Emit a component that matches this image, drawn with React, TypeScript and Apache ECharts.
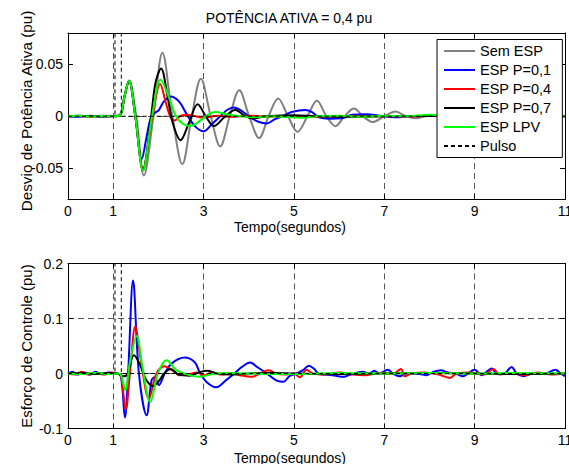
import React, { useEffect, useRef } from 'react';
import * as echarts from 'echarts';

type Pt = [number, number];

const FONT = '"Liberation Sans", Arial, Helvetica, sans-serif';

const titleText = 'POTÊNCIA ATIVA = 0,4 pu';
const xName = 'Tempo(segundos)';
const topYName = 'Desvio de Potência Ativa (pu)';
const bottomYName = 'Esforço de Controle (pu)';

const xTicks = [0, 1, 3, 5, 7, 9, 11];
const topYTicks = [-0.05, 0, 0.05];
const seriesNames = ['Sem ESP', 'ESP P=0,1', 'ESP P=0,4', 'ESP P=0,7', 'ESP LPV', 'Pulso'];
const seriesColors = ['#808080', '#0000ff', '#ff0000', '#000000', '#00ff00', '#000000'];

// Pulse (same reference pulse in both panels)
const pulso: Pt[] = [[0, 0], [1.04, 0], [1.04, 1], [1.18, 1], [1.18, 0], [11, 0]];

// ---- Top panel: Desvio de Potência Ativa (pu) ----
const devSemEsp: Pt[] = [
  [0, 0], [0.25, 0.0008], [0.5, -0.0003], [0.75, 0.0006], [1.0, 0.0003], [1.15, 0.001], [1.25, 0.019],
  [1.35, 0.034], [1.51, 0], [1.68, -0.057], [1.89, 0], [2.09, 0.061], [2.31, 0], [2.53, -0.046],
  [2.74, 0], [2.94, 0.036], [3.16, 0], [3.37, -0.029], [3.58, 0], [3.79, 0.025], [4.01, 0],
  [4.23, -0.021], [4.44, 0], [4.65, 0.017], [4.87, 0], [5.08, -0.015], [5.3, 0], [5.51, 0.015],
  [5.72, 0], [5.92, -0.0095], [6.12, 0], [6.33, 0.0075], [6.53, 0], [6.74, -0.0055], [7.0, 0],
  [7.25, 0.0045], [7.48, 0], [7.7, -0.002], [8.0, 0.001], [8.5, 0], [9, 0.0005], [9.5, 0],
  [10, 0.0003], [10.5, 0], [11, 0],
];
const devP01: Pt[] = [
  [0, 0], [0.25, -0.0005], [0.5, 0.0004], [0.75, -0.0003], [1.0, 0.0003], [1.15, 0.001], [1.25, 0.019],
  [1.35, 0.034], [1.49, 0], [1.63, -0.041], [1.76, -0.015], [1.83, -0.002], [1.92, 0.003], [2.01, 0.006],
  [2.12, 0.014], [2.27, 0.019], [2.46, 0.014], [2.64, 0.001], [2.82, -0.01], [3.0, -0.0145], [3.2, -0.007],
  [3.37, 0], [3.52, 0.006], [3.67, 0.0085], [3.85, 0.005], [4.0, 0], [4.2, -0.005], [4.4, -0.007],
  [4.57, -0.003], [4.74, 0], [4.95, 0.004], [5.25, 0.006], [5.4, 0.004], [5.55, -0.001], [5.8, -0.0023],
  [6.05, -0.002], [6.3, 0.0015], [6.6, 0.002], [6.9, 0.0005], [7.25, -0.001], [7.6, 0], [8, 0.0005],
  [8.5, 0], [9, -0.0003], [10, 0.0003], [11, 0],
];
const devP04: Pt[] = [
  [0, 0], [0.25, 0.0003], [0.5, -0.0004], [0.75, 0.0003], [1.0, 0], [1.15, 0.001], [1.25, 0.019],
  [1.35, 0.034], [1.49, 0], [1.66, -0.05], [1.87, 0], [2.04, 0.031], [2.16, 0.014], [2.27, -0.001],
  [2.36, -0.004], [2.49, 0.0003], [2.64, 0.0015], [2.82, 0], [3.0, -0.0013], [3.3, 0.0005], [3.6, -0.0005],
  [4, 0.0005], [4.5, -0.0003], [5, 0.0003], [5.5, -0.0005], [6, 0.0003], [6.5, -0.0003], [7, 0.0003],
  [7.5, -0.0003], [8, 0.0003], [8.5, 0], [9, 0.0003], [10, 0], [11, 0],
];
const devP07: Pt[] = [
  [0, 0], [0.25, 0.0002], [0.5, 0], [0.75, -0.0002], [1.0, 0], [1.15, 0.001], [1.25, 0.019],
  [1.35, 0.034], [1.49, 0], [1.66, -0.052], [1.84, 0], [1.94, 0.033], [2.06, 0.046], [2.2, 0.02],
  [2.31, -0.005], [2.49, -0.023], [2.68, -0.006], [2.87, 0.0115], [3.05, 0], [3.23, -0.0094],
  [3.46, -0.001], [3.7, 0.006], [3.93, 0], [4.1, -0.002], [4.4, 0], [5.0, 0.001], [5.5, 0],
  [6, -0.0005], [7, 0], [8, 0.0003], [9, 0], [11, 0],
];
const devLpv: Pt[] = [
  [0, 0], [0.25, 0.0004], [0.5, -0.0003], [0.75, 0.0002], [1.0, 0], [1.15, 0.001], [1.25, 0.019],
  [1.35, 0.034], [1.49, 0], [1.66, -0.052], [1.86, 0], [2.05, 0.035], [2.2, 0.022], [2.38, 0.001],
  [2.53, -0.007], [2.71, -0.0094], [2.93, -0.004], [3.12, 0.002], [3.26, 0.0042], [3.52, 0.0016],
  [3.8, 0], [4.1, -0.001], [4.5, 0], [5.2, -0.0015], [5.5, 0], [6, 0.0005], [6.5, -0.0005],
  [7, 0.0005], [7.5, 0], [8, 0.0015], [8.5, 0], [9, 0], [10, 0], [11, 0],
];

// ---- Bottom panel: Esforço de Controle (pu) ----
const ctrlP01: Pt[] = [
  [0, 0], [0.1, 0.003], [0.2, -0.002], [0.35, 0.002], [0.5, -0.002], [0.6, 0.003], [0.75, -0.001],
  [0.9, 0.002], [1.05, 0], [1.16, -0.002], [1.26, -0.08], [1.33, 0], [1.44, 0.169], [1.57, 0],
  [1.74, -0.076], [1.85, -0.012], [1.92, -0.007], [2.01, -0.021], [2.14, 0], [2.29, 0.018],
  [2.58, 0.029], [2.8, 0.021], [2.91, 0.003], [3.06, -0.015], [3.28, -0.025], [3.5, -0.012],
  [3.68, 0], [3.85, 0.012], [4.03, 0.02], [4.2, 0.011], [4.4, 0], [4.62, -0.013], [4.77, -0.015],
  [4.9, -0.005], [5.06, 0], [5.2, 0.006], [5.33, 0.014], [5.44, 0.009], [5.56, -0.001], [5.85, -0.003],
  [6.11, -0.006], [6.22, -0.003], [6.52, 0.003], [6.67, 0], [6.78, 0.005], [6.89, 0], [7.08, 0.007],
  [7.19, 0], [7.34, -0.005], [7.49, 0], [7.78, -0.001], [7.93, -0.003], [8.08, 0.003], [8.26, 0.006],
  [8.37, 0.003], [8.6, -0.001], [8.74, -0.005], [9.0, 0.007], [9.15, -0.003], [9.38, 0.009],
  [9.49, 0], [9.64, -0.001], [9.82, 0.012], [9.93, 0], [10.08, -0.005], [10.3, 0], [10.53, -0.001],
  [10.79, 0.007], [10.9, 0], [11, -0.005],
];
const ctrlP04: Pt[] = [
  [0, 0], [0.15, -0.002], [0.3, 0.003], [0.45, -0.002], [0.6, 0.001], [0.8, -0.002], [0.95, 0.002],
  [1.1, 0], [1.17, -0.003], [1.28, -0.065], [1.37, 0], [1.49, 0.086], [1.62, 0.02], [1.79, -0.045],
  [1.96, 0], [2.14, 0.013], [2.32, 0.005], [2.47, -0.003], [2.7, -0.001], [2.85, 0.002], [3.0, -0.003],
  [3.2, 0.002], [3.4, -0.002], [3.6, 0.001], [3.8, -0.003], [4.07, -0.006], [4.25, 0], [4.44, 0.006],
  [4.6, 0], [4.8, -0.002], [5.0, 0], [5.13, -0.007], [5.28, 0.007], [5.42, 0], [5.7, -0.002],
  [6.0, 0.002], [6.3, -0.002], [6.6, -0.003], [6.9, 0.001], [7.2, 0], [7.37, 0.008], [7.45, -0.005],
  [7.6, 0], [7.9, 0.002], [8.2, -0.002], [8.45, -0.008], [8.6, 0], [8.9, 0.002], [9.2, -0.002],
  [9.42, 0.008], [9.55, -0.002], [9.8, 0.001], [10.1, -0.003], [10.4, 0.002], [10.7, -0.002], [11, 0],
];
const ctrlP07: Pt[] = [
  [0, 0], [0.3, 0.001], [0.6, -0.001], [0.9, 0.001], [1.1, 0], [1.2, -0.005], [1.3, -0.003],
  [1.46, 0.033], [1.6, 0.015], [1.72, -0.01], [1.88, -0.023], [2.0, -0.015], [2.13, 0], [2.27, 0.008],
  [2.45, -0.002], [2.7, -0.004], [2.9, 0.002], [3.08, 0.005], [3.3, 0], [3.6, -0.002], [4, 0],
  [4.5, 0.001], [5, 0], [6, -0.001], [7, 0], [8, 0.001], [9, 0], [10, -0.001], [11, 0],
];
const ctrlLpv: Pt[] = [
  [0, 0], [0.3, -0.001], [0.6, 0.001], [0.9, -0.001], [1.1, 0], [1.17, -0.003], [1.27, -0.03],
  [1.37, 0.02], [1.52, 0.068], [1.65, 0.01], [1.82, -0.052], [1.99, 0], [2.18, 0.024], [2.4, 0.006],
  [2.69, -0.003], [2.91, -0.006], [3.2, -0.001], [3.5, 0.001], [4, 0], [5, -0.001], [6, 0.001],
  [7, 0], [8, 0.001], [9, 0], [10, 0.001], [11, 0],
];

const topData: Pt[][] = [devSemEsp, devP01, devP04, devP07, devLpv, pulso];
const bottomData: (Pt[] | null)[] = [null, ctrlP01, ctrlP04, ctrlP07, ctrlLpv, pulso];

const GRID_LEFT = 68;
const GRID_W = 497;

function buildOption(): any {
  const textBase = { fontFamily: FONT, fontSize: 14, color: '#000' };
  const gridLine = { show: true, showMinLine: false, showMaxLine: false, lineStyle: { color: '#555', width: 1, type: [6, 4] } };
  const axLine = { show: true, onZero: false, lineStyle: { color: '#000', width: 1 } };
  const tick = (custom?: number[]) => ({ show: true, inside: true, length: 5, lineStyle: { color: '#000', width: 1 }, ...(custom ? { customValues: custom } : {}) });

  const xMain = (grid: number) => ({
    type: 'value', gridIndex: grid, position: 'bottom', min: 0, max: 11,
    axisLine: axLine, axisTick: tick(xTicks),
    axisLabel: { show: true, customValues: xTicks, margin: 4, ...textBase },
    splitLine: gridLine,
  });
  const xMirror = (grid: number) => ({
    type: 'value', gridIndex: grid, position: 'top', min: 0, max: 11,
    axisLine: axLine, axisTick: tick(xTicks), axisLabel: { show: false, customValues: xTicks }, splitLine: { show: false },
  });

  const yTop = {
    type: 'value', gridIndex: 0, position: 'left', min: -0.08, max: 0.08,
    axisLine: axLine, axisTick: tick(topYTicks),
    axisLabel: { show: true, customValues: topYTicks, margin: 5, ...textBase },
    splitLine: gridLine,
  };
  const yTopMirror = {
    type: 'value', gridIndex: 0, position: 'right', min: -0.08, max: 0.08,
    axisLine: axLine, axisTick: tick(topYTicks), axisLabel: { show: false, customValues: topYTicks }, splitLine: { show: false },
  };
  const yBottom = {
    type: 'value', gridIndex: 1, position: 'left', min: -0.1, max: 0.2, interval: 0.1,
    axisLine: axLine, axisTick: tick(),
    axisLabel: { show: true, margin: 5, ...textBase },
    splitLine: gridLine,
  };
  const yBottomMirror = {
    type: 'value', gridIndex: 1, position: 'right', min: -0.1, max: 0.2, interval: 0.1,
    axisLine: axLine, axisTick: tick(), axisLabel: { show: false }, splitLine: { show: false },
  };

  const series: any[] = [];
  const mk = (i: number, data: Pt[], axisIdx: number) => {
    const dashed = i === 5;
    return {
      type: 'line', name: seriesNames[i], data, xAxisIndex: axisIdx, yAxisIndex: axisIdx,
      showSymbol: false, symbol: 'none', smooth: dashed ? false : 0.35, clip: true, silent: true,
      lineStyle: { color: seriesColors[i], width: dashed ? 1 : 2, type: dashed ? [4, 3] : 'solid' },
      itemStyle: { color: seriesColors[i] },
      z: 2 + i,
    };
  };
  topData.forEach((d, i) => series.push(mk(i, d, 0)));
  bottomData.forEach((d, i) => { if (d) series.push(mk(i, d, 2)); });

  const txt = (text: string, x: number, y: number, size: number, rot = 0) => ({
    type: 'text', x, y, rotation: rot,
    style: { text, textAlign: 'center', textVerticalAlign: 'middle', font: `${size}px ${FONT}`, fill: '#000' },
  });

  return {
    animation: false,
    backgroundColor: '#fff',
    grid: [
      { left: GRID_LEFT, top: 33, width: GRID_W, height: 166.5, containLabel: false, outerBoundsMode: 'none' },
      { left: GRID_LEFT, top: 263.5, width: GRID_W, height: 165, containLabel: false, outerBoundsMode: 'none' },
    ],
    xAxis: [xMain(0), xMirror(0), xMain(1), xMirror(1)],
    yAxis: [yTop, yTopMirror, yBottom, yBottomMirror],
    legend: {
      data: seriesNames,
      orient: 'vertical',
      left: 437, top: 39.5,
      itemWidth: 31, itemHeight: 14, itemGap: 4,
      padding: [4, 11, 4, 6],
      backgroundColor: '#fff', borderColor: '#000', borderWidth: 1, borderRadius: 0,
      selectedMode: false,
      itemStyle: { opacity: 0 },
      textStyle: { fontFamily: FONT, fontSize: 14.5, color: '#000' },
      z: 20,
    },
    graphic: [
      txt(titleText, 289, 18, 14),
      txt(xName, 290, 227, 14),
      txt(xName, 290, 457.5, 14),
      txt(topYName, 26, 111, 15.3, Math.PI / 2),
      txt(bottomYName, 26, 346, 15, Math.PI / 2),
    ],
    series,
  };
}

export default function App() {
  const ref = useRef<HTMLDivElement>(null);
  useEffect(() => {
    if (!ref.current) return;
    const chart = echarts.init(ref.current, null, { renderer: 'svg' });
    chart.setOption(buildOption());
    return () => chart.dispose();
  }, []);
  return (
    <div
      ref={ref}
      style={{ position: 'absolute', left: 0, top: 0, width: 569, height: 464, background: '#fff' }}
    />
  );
}
